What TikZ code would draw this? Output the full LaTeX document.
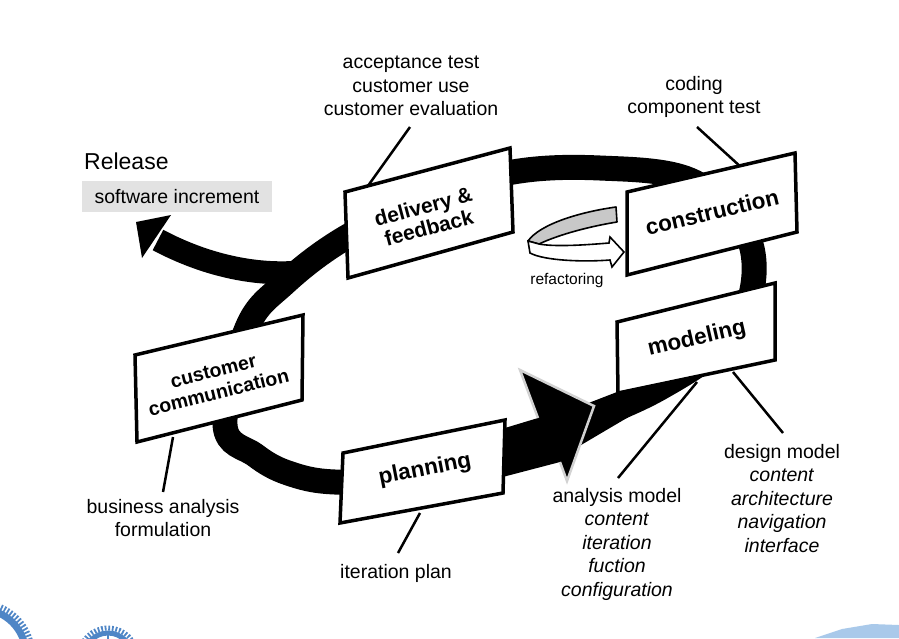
\documentclass[tikz,border=0pt]{standalone}
\usepackage{fontspec}
\setmainfont{Liberation Sans}
\definecolor{gearc}{HTML}{4F86C6}
\definecolor{gearl}{HTML}{A9C9EA}
\definecolor{swgray}{HTML}{E2E2E2}
\definecolor{refgray}{HTML}{C8C8C8}
\begin{document}
\begin{tikzpicture}[x=1pt,y=-1pt,
  box/.style={draw=black, line width=3.5pt, fill=white, line join=miter},
  boxtext/.style={font=\bfseries\fontsize{21}{22}\selectfont, align=center, inner sep=0pt},
  lbl/.style={font=\fontsize{19.5}{23.5}\selectfont, align=center, inner sep=0pt},
  ptr/.style={line width=2.5pt, draw=black},
  band/.style={line width=25pt, draw=black},
]
\useasboundingbox (0,0) rectangle (899,638);

% decorative gears
\draw[gearc, line width=7pt] (-20,655) circle (46);
\draw[gearc, line width=6pt, dash pattern=on 1.8pt off 1.8pt] (-20,655) circle (52);
\draw[gearc, line width=5pt] (108,657) circle (24);
\draw[gearc, line width=5pt, dash pattern=on 1.8pt off 1.8pt] (108,657) circle (29);
\draw[gearc, line width=2pt] (108,633) -- (108,681) (84,657) -- (132,657);
\fill[gearl] (815,638) -- (842,629) -- (872,624) -- (899,625) -- (899,638) -- cycle;

% main loop band
\draw[band] plot[smooth cycle, tension=0.6] coordinates {
  (225,425) (247,328) (285,283) (345,238) (430,197) (513,172) (600,168)
  (690,180) (745,230) (752,290) (722,345) (660,388) (590,420) (505,455)
  (420,478) (335,482) (288,473) (255,455)};

% release branch
\draw[line width=23pt] (300,272) .. controls (255,276) and (205,265) .. (158,240);
\coordinate (relTip) at (136,222);
\fill (relTip) -- (171,215) -- (142,258) -- cycle;

% wedge after the big arrow
\fill (586,404) -- (617,392) -- (705,374) .. controls (660,398) and (615,425) .. (576,448) -- cycle;

% big arrow: shaft + head
\fill (495,431) -- (538,418) -- (520,370) -- (594,406) -- (567,481) -- (560,462) -- (495,479) -- cycle;
\draw[gray!35, line width=2.5pt, line join=miter] (538,418) -- (520,370) -- (594,406) -- (567,481) -- (560,462);

% pointer coordinates
\coordinate (pAccA) at (410,127);  \coordinate (pAccB) at (365,190);
\coordinate (pCodA) at (697,127);  \coordinate (pCodB) at (742,168);
\coordinate (pBusA) at (173,437);  \coordinate (pBusB) at (163,492);
\coordinate (pItpA) at (420,513);  \coordinate (pItpB) at (398,553);
\coordinate (pAnaA) at (697,382);  \coordinate (pAnaB) at (618,478);
\coordinate (pDesA) at (733,372);  \coordinate (pDesB) at (783,433);
\draw[ptr] (pAccA) -- (pAccB);
\draw[ptr] (pCodA) -- (pCodB);
\draw[ptr] (pBusA) -- (pBusB);
\draw[ptr] (pItpA) -- (pItpB);
\draw[ptr] (pAnaA) -- (pAnaB);
\draw[ptr] (pDesA) -- (pDesB);

% boxes
\draw[box] (345,192) -- (510,148) -- (513,232) -- (348,278) -- cycle;
\node[boxtext, rotate=15] (delivery) at (426,217) {delivery \&\\feedback};
\draw[box] (135,355) -- (303,315) -- (302,400) -- (137,442) -- cycle;
\node[boxtext, font=\bfseries\fontsize{19.5}{22}\selectfont, rotate=14] (custcomm) at (216,382) {customer\\communication};
\draw[box] (343,453) -- (505,420) -- (503,493) -- (340,523) -- cycle;
\node[boxtext, font=\bfseries\fontsize{22.5}{24}\selectfont, rotate=11] (planning) at (425,470) {planning};
\draw[box] (627,192) -- (795,153) -- (797,232) -- (627,275) -- cycle;
\node[boxtext, font=\bfseries\fontsize{22.5}{24}\selectfont, rotate=13.5] (construction) at (712,212) {construction};
\draw[box] (617,322) -- (775,283) -- (775,360) -- (618,393) -- cycle;
\node[boxtext, font=\bfseries\fontsize{22.5}{24}\selectfont, rotate=13] (modeling) at (697,339) {modeling};

% refactoring symbol
\filldraw[fill=refgray, draw=black, line width=1.6pt, line join=round]
  (616,207) .. controls (580,212) and (540,224) .. (528,241)
  -- (539,244) .. controls (560,234) and (592,226) .. (617,222) -- cycle;
\filldraw[fill=white, draw=black, line width=1.6pt, line join=miter]
  (528,241) -- (530,253) .. controls (545,261) and (585,262) .. (610,260)
  -- (612,267) -- (624,252) -- (610,237) -- (609,243)
  .. controls (585,245) and (555,247) .. (539,244) -- cycle;

% labels
\node[lbl] (acc) at (411,86) {acceptance test\\customer use\\customer evaluation};
\node[lbl] (cod) at (694,97) {coding\\component test};
\node[font=\fontsize{23}{26}\selectfont, anchor=west, inner sep=0pt] (rel) at (84,161) {Release};
\node[lbl, fill=swgray, minimum width=190pt, minimum height=31pt] (sw) at (177,196.5) {software increment};
\node[font=\fontsize{15.5}{18}\selectfont, inner sep=0pt] (ref) at (567,280) {refactoring};
\node[lbl] (bus) at (163,518) {business analysis\\formulation};
\node[lbl] (itp) at (396,573) {iteration plan};
\node[lbl] (ana) at (617,544) {analysis model\\\textit{content}\\\textit{iteration}\\\textit{fuction}\\\textit{configuration}};
\node[lbl] (des) at (782,498.5) {design model\\\textit{content}\\\textit{architecture}\\\textit{navigation}\\\textit{interface}};
\end{tikzpicture}
\end{document}
